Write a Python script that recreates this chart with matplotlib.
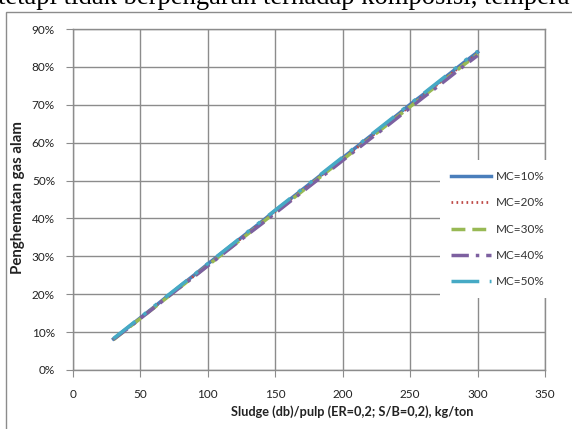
import matplotlib.pyplot as plt
from matplotlib.patches import Rectangle
from matplotlib.ticker import PercentFormatter

# sludge per pulp, kg/ton
sludge = [30, 40, 50, 60, 70, 80, 90, 100, 110, 120, 130, 140, 150, 160,
          170, 180, 190, 200, 210, 220, 230, 240, 250, 260, 270, 280, 290, 300]

# penghematan gas alam (%)
mc10 = [8.2, 11.0, 13.8, 16.6, 19.5, 22.3, 25.1, 28.0, 30.8, 33.6, 36.4, 39.2, 42.1, 44.8,
        47.6, 50.4, 53.2, 56.0, 58.8, 61.6, 64.4, 67.2, 70.1, 72.8, 75.6, 78.4, 81.2, 83.9]
mc20 = [8.1, 10.9, 13.7, 16.5, 19.3, 22.1, 24.9, 27.7, 30.6, 33.4, 36.2, 39.0, 41.8, 44.6,
        47.4, 50.2, 53.0, 55.7, 58.5, 61.3, 64.1, 66.9, 69.7, 72.5, 75.3, 78.1, 80.8, 83.5]
mc30 = [8.0, 10.8, 13.6, 16.4, 19.2, 22.0, 24.8, 27.6, 30.4, 33.2, 36.0, 38.8, 41.6, 44.4,
        47.2, 50.0, 52.8, 55.5, 58.3, 61.1, 63.9, 66.7, 69.5, 72.3, 75.1, 77.8, 80.6, 83.3]
mc40 = [8.1, 10.8, 13.6, 16.4, 19.2, 22.0, 24.7, 27.5, 30.3, 33.1, 35.9, 38.6, 41.4, 44.2,
        47.0, 49.8, 52.5, 55.3, 58.1, 60.9, 63.6, 66.4, 69.2, 72.0, 74.7, 77.5, 80.3, 83.0]
mc50 = [8.3, 11.1, 13.9, 16.8, 19.6, 22.4, 25.2, 28.1, 30.9, 33.7, 36.6, 39.4, 42.2, 45.0,
        47.8, 50.6, 53.4, 56.2, 59.0, 61.8, 64.6, 67.4, 70.3, 73.0, 75.8, 78.6, 81.5, 84.1]

labels = ['MC=10%', 'MC=20%', 'MC=30%', 'MC=40%', 'MC=50%']

plt.rcParams['font.family'] = ['Lato', 'DejaVu Sans']

fig = plt.figure(figsize=(5.72, 4.29), dpi=100)

# piece of the document text above the chart, cut off at the top
fig.text(-0.004, 0.976, 'tetapi tidak berpengaruh terhadap komposisi, tempera',
         family='Liberation Serif', fontsize=19.2, va='bottom', ha='left', color='black')

# chart frame
fig.patches.append(Rectangle((6 / 572, -0.05), 1.2, 1 - 12 / 429 + 0.05,
                             transform=fig.transFigure, fill=False,
                             edgecolor='#8c8c8c', linewidth=1))

ax = fig.add_axes([73 / 572, 1 - 370 / 429, (545 - 73) / 572, (370 - 29) / 429])

ax.plot(sludge, mc10, color='#4A7EBB', lw=2.5, ls='-', label=labels[0])
ax.plot(sludge, mc20, color='#BE4B48', lw=2.0, ls=(0, (0.6, 1.2)), label=labels[1])
ax.plot(sludge, mc30, color='#98B954', lw=2.5, ls=(0, (4, 2)), label=labels[2])
ax.plot(sludge, mc40, color='#7D60A0', lw=2.5, ls=(0, (5, 2, 1, 2)), label=labels[3])
ax.plot(sludge, mc50, color='#46AAC5', lw=2.5, ls=(0, (8, 3, 1, 3, 1, 3)), label=labels[4])

ax.set_xlim(0, 350)
ax.set_ylim(0, 90)
ax.set_xticks(range(0, 351, 50))
ax.set_yticks(range(0, 91, 10))
ax.yaxis.set_major_formatter(PercentFormatter(decimals=0))
ax.grid(True, color='#8c8c8c', linewidth=1)
ax.set_axisbelow(True)
for s in ax.spines.values():
    s.set_color('#8c8c8c')
    s.set_linewidth(1)
ax.tick_params(direction='out', length=5, color='#8c8c8c', labelsize=8.5,
               labelcolor='#222222')
ax.tick_params(axis='x', pad=9)
ax.tick_params(axis='y', pad=8)

ax.set_xlabel('Sludge (db)/pulp (ER=0,2; S/B=0,2), kg/ton', fontsize=9.2,
              fontweight='bold', color='#222222')
ax.xaxis.set_label_coords(0.591, -0.105)
ax.set_ylabel('Penghematan gas alam', fontsize=10.8, fontweight='bold',
              color='#222222')
ax.yaxis.set_label_coords(-0.102, 0.505)

leg = ax.legend(loc='center left', bbox_to_anchor=(0.765, 0.413), fontsize=8.5,
                frameon=True, fancybox=False, edgecolor='none', framealpha=1,
                handlelength=3.4, handletextpad=0.4, labelspacing=1.3,
                borderpad=0.9)
for t in leg.get_texts():
    t.set_color('#333333')

fig.savefig('out.png', dpi=100)
